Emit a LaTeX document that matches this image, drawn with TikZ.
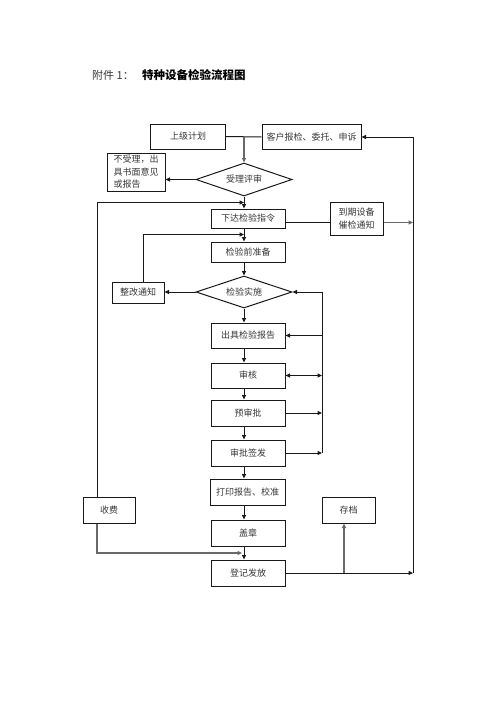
\documentclass[tikz,border=0pt]{standalone}
\usepackage{fontspec}
\newfontfamily\cjk{Noto Sans CJK SC}
\usetikzlibrary{arrows.meta,shapes.geometric}
\definecolor{lnblack}{RGB}{25,25,25}
\definecolor{lngray}{RGB}{105,105,105}
\definecolor{txtgray}{RGB}{55,55,55}
\tikzset{
  box/.style={draw=lnblack, line width=1pt, font=\cjk\fontsize{9}{12.5}\selectfont,
              text=txtgray, inner sep=1pt, align=center, minimum width=74pt,
              minimum height=25pt},
  sidebox/.style={box, minimum width=52pt, minimum height=26pt},
  decision/.style={box, diamond, aspect=2.9, minimum width=96pt, minimum height=33pt,
                   inner sep=0pt},
  arrow/.style={-{Triangle[length=4.5pt,width=4pt]}, line width=1pt, draw=lnblack},
  twoway/.style={arrow, {Triangle[length=4.5pt,width=4pt]}-{Triangle[length=4.5pt,width=4pt]}},
  grayarrow/.style={arrow, draw=lngray, line width=1.4pt},
  link/.style={line width=1pt, draw=lnblack},
  heading/.style={font=\cjk\fontsize{11}{13}\selectfont, anchor=west, inner sep=0pt},
}

\begin{document}
\begin{tikzpicture}[x=1pt, y=-1pt]
\useasboundingbox (0,0) rectangle (496,702);

% ================= title =================
\node[heading, text=txtgray] (annex) at (92,75) {附件 1：};
\node[heading, font=\cjk\bfseries\fontsize{11.5}{13}\selectfont] (title) at (142,75)
  {特种设备检验流程图};

% ================= upper part =================
\node[box, minimum width=75pt] (plan) at (188,136.5) {上级计划};
\node[box, minimum width=99pt] (client) at (311.5,137) {客户报检、委托、申诉};
\node[decision] (review) at (244,179.5) {受理评审};
\node[box, minimum width=58pt, minimum height=38pt, align=left] (reject) at (136,172)
  {不受理，出\\具书面意见\\或报告};
\node[box, minimum height=19pt] (order) at (248,218.5) {下达检验指令};
\node[box, minimum width=53pt, minimum height=33pt, align=left] (due) at (356.5,218.5)
  {到期设备\\催检通知};
\node[box, minimum height=20pt] (prep) at (248,252) {检验前准备};

% ================= inspection =================
\node[decision, minimum height=32pt] (inspect) at (244,292) {检验实施};
\node[sidebox, minimum height=21pt] (rectify) at (138,292.5) {整改通知};
\node[box] (report) at (248,335.5) {出具检验报告};
\node[box] (audit) at (248,375.5) {审核};
\node[box, minimum height=26pt] (preapp) at (248,413) {预审批};
\node[box, minimum height=26pt] (signoff) at (248,453) {审批签发};

% ================= issuing =================
\node[box, minimum width=75pt, minimum height=26pt] (print) at (247.5,492) {打印报告、校准};
\node[sidebox] (fee) at (109,510) {收费};
\node[sidebox, minimum width=53pt] (archive) at (348.5,510) {存档};
\node[box, minimum height=26pt] (seal) at (248,533) {盖章};
\node[box, minimum height=26pt] (issue) at (248,573) {登记发放};

% rails and bends
\coordinate (axis) at (244,0);
\coordinate (join) at (244,137);
\coordinate (rrail) at (413,137);
\coordinate (lrail) at (97,202.5);
\coordinate (duey) at (0,222.5);
\coordinate (zg) at (143,234.5);
\coordinate (crail) at (322,0);
\coordinate (feey) at (97,553);
\coordinate (branch) at (344,573);

% ================= connectors =================
\draw[link] (plan.east) -- (client.west);
\draw[grayarrow] (join) -- (review.north);
\draw[arrow] (review.west) -- (review.west -| reject.east);
\draw[arrow] (review.south) -- (order.north -| axis);
\draw[arrow] (fee.north -| lrail) -- (lrail) -- (lrail -| axis);
\draw[link] (order.east |- duey) -- (due.west |- duey);
\draw[arrow, draw=lngray] (due.east |- duey) -- (rrail |- duey);
\draw[arrow] (order.south -| axis) -- (prep.north -| axis);
\draw[arrow] (rectify.north -| zg) -- (zg) -- (zg -| axis);
\draw[arrow] (prep.south -| axis) -- (inspect.north);
\draw[arrow] (inspect.west) -- (inspect.west -| rectify.east);
\draw[arrow] (inspect.south) -- (report.north -| axis);

% review loop on the right
\draw[arrow] (signoff.east -| crail) -- (inspect.east -| crail) -- (inspect.east);
\draw[arrow] (report.east -| crail) -- (report.east);
\draw[twoway] (audit.east) -- (audit.east -| crail);
\draw[arrow] (preapp.east) -- (preapp.east -| crail);
\draw[arrow] (signoff.east) -- (signoff.east -| crail);

\draw[arrow] (report.south -| axis) -- (audit.north -| axis);
\draw[arrow] (audit.south -| axis) -- (preapp.north -| axis);
\draw[arrow] (preapp.south -| axis) -- (signoff.north -| axis);
\draw[arrow] (signoff.south -| axis) -- (print.north -| axis);
\draw[arrow] (print.south -| axis) -- (seal.north -| axis);
\draw[arrow] (seal.south -| axis) -- (issue.north -| axis);

% fee and archive
\draw[grayarrow] (fee.south -| lrail) -- (feey) -- ([xshift=-2pt]feey -| axis);
\draw[grayarrow] (branch) -- (branch |- archive.south);
\draw[arrow] (issue.east) -- (issue.east -| rrail);
\draw[arrow] (issue.east -| rrail) -- (rrail) -- (client.east);

\end{tikzpicture}
\end{document}
